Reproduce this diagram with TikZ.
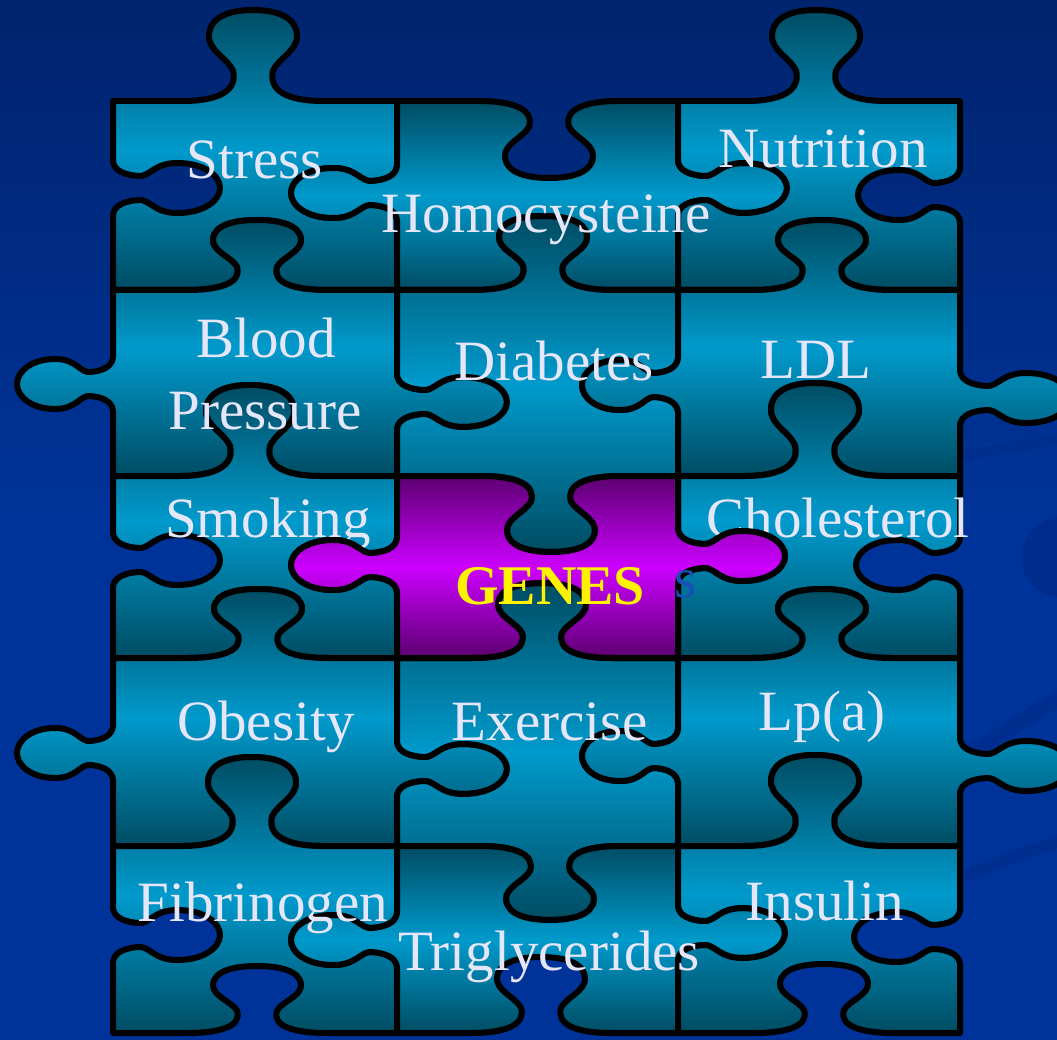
\documentclass[tikz,border=0pt]{standalone}
\usepackage{fontspec}
\setmainfont{Liberation Serif}
\usepackage{xcolor}

\definecolor{bgtop}{HTML}{00246E}
\definecolor{bgbot}{HTML}{003399}
\definecolor{bgswoosh}{HTML}{002A86}
\definecolor{tealhi}{HTML}{009ACC}
\definecolor{tealdk}{HTML}{004C63}
\definecolor{purphi}{HTML}{CC00FF}
\definecolor{purpdk}{HTML}{5C0070}
\definecolor{piecelabel}{HTML}{E6E6FA}
\definecolor{ghostblue}{HTML}{1A4FB8}

% knob on a horizontal edge: centre x, y, direction (+1 = rightwards), signed depth (+ = down)
\newcommand\hk[4]{%
  -- ({#1-70*(#3)},{#2})
  .. controls ({#1-35*(#3)},{#2}) and ({#1-15*(#3)},{#2+(#4)/9}) .. ({#1-20*(#3)},{#2+(#4)/3})
  .. controls ({#1-25*(#3)},{#2+(#4)*42/90}) and ({#1-45*(#3)},{#2+(#4)*50/90}) .. ({#1-44*(#3)},{#2+(#4)*65/90})
  .. controls ({#1-43*(#3)},{#2+(#4)*85/90}) and ({#1-20*(#3)},{#2+(#4)}) .. ({#1},{#2+(#4)})
  .. controls ({#1+20*(#3)},{#2+(#4)}) and ({#1+43*(#3)},{#2+(#4)*85/90}) .. ({#1+44*(#3)},{#2+(#4)*65/90})
  .. controls ({#1+45*(#3)},{#2+(#4)*50/90}) and ({#1+25*(#3)},{#2+(#4)*42/90}) .. ({#1+20*(#3)},{#2+(#4)/3})
  .. controls ({#1+15*(#3)},{#2+(#4)/9}) and ({#1+35*(#3)},{#2}) .. ({#1+70*(#3)},{#2})}

% knob on a vertical edge: x, centre y, direction (+1 = downwards), signed depth (+ = right)
\newcommand\vk[4]{%
  -- ({#1},{#2-27*(#3)})
  .. controls ({#1+(#4)*1/105},{#2-17*(#3)}) and ({#1+(#4)*12/105},{#2-13*(#3)}) .. ({#1+(#4)*25/105},{#2-12*(#3)})
  .. controls ({#1+(#4)*36/105},{#2-11*(#3)}) and ({#1+(#4)*40/105},{#2-25*(#3)}) .. ({#1+(#4)*63/105},{#2-25*(#3)})
  .. controls ({#1+(#4)*90/105},{#2-25*(#3)}) and ({#1+(#4)},{#2-12*(#3)}) .. ({#1+(#4)},{#2})
  .. controls ({#1+(#4)},{#2+12*(#3)}) and ({#1+(#4)*90/105},{#2+25*(#3)}) .. ({#1+(#4)*63/105},{#2+25*(#3)})
  .. controls ({#1+(#4)*40/105},{#2+25*(#3)}) and ({#1+(#4)*36/105},{#2+11*(#3)}) .. ({#1+(#4)*25/105},{#2+12*(#3)})
  .. controls ({#1+(#4)*12/105},{#2+13*(#3)}) and ({#1+(#4)*1/105},{#2+17*(#3)}) .. ({#1},{#2+27*(#3)})}

\tikzset{
  piece/.style={draw=black, line width=6pt, line join=round,
    top color=tealdk, bottom color=tealdk, middle color=tealhi},
  genespiece/.style={piece, top color=purpdk, bottom color=purpdk, middle color=purphi},
  piecetext/.style={text=piecelabel, font=\fontsize{57}{60}\selectfont, anchor=base, inner sep=0pt},
}

\begin{document}
\begin{tikzpicture}[x=1pt, y=-1pt]
  \useasboundingbox (0,0) rectangle (1057,1040);
  \clip (0,0) rectangle (1057,1040);
  \fill[top color=bgtop, bottom color=bgbot, middle color=bgbot] (0,0) rectangle (1057,1040);

  % faint swooshes of the background
  \fill[bgswoosh, opacity=0.6] (1057,515) .. controls (1012,530) and (1008,585) .. (1057,598) -- cycle;
  \draw[bgswoosh, line width=16pt, opacity=0.45] (940,770) .. controls (985,745) and (1025,720) .. (1062,695);
  \draw[bgswoosh, line width=12pt, opacity=0.45] (940,885) .. controls (985,868) and (1025,852) .. (1062,840);
  \draw[bgswoosh, line width=10pt, opacity=0.35] (940,460) .. controls (985,452) and (1025,445) .. (1062,438);

  % row 1
  \path[piece] (113,101) \hk{253}{101}{1}{-91} -- (397,101) \vk{397}{193}{1}{-106} -- (397,290) \hk{257}{290}{-1}{-70} -- (113,290) \vk{113}{188}{-1}{107} -- cycle;
  \path[piece] (397,101) \hk{549}{101}{1}{77} -- (678,101) \vk{678}{188}{1}{109} -- (678,290) \hk{543}{290}{-1}{-74} -- (397,290) \vk{397}{193}{-1}{-106} -- cycle;
  \path[piece] (678,101) \hk{816}{101}{1}{-91} -- (960,101) \vk{960}{195}{1}{-102} -- (960,290) \hk{822}{290}{-1}{-70} -- (678,290) \vk{678}{188}{-1}{109} -- cycle;
  % row 2
  \path[piece] (113,290) \hk{257}{290}{1}{-70} -- (397,290) \vk{397}{402}{1}{110} -- (397,476) \hk{250}{476}{-1}{-91} -- (113,476) \vk{113}{384}{-1}{-96} -- cycle;
  \path[piece] (397,290) \hk{543}{290}{1}{-74} -- (678,290) \vk{678}{385}{1}{-96} -- (678,476) \hk{551}{476}{-1}{76} -- (397,476) \vk{397}{402}{-1}{110} -- cycle;
  \path[piece] (678,290) \hk{822}{290}{1}{-70} -- (960,290) \vk{960}{398}{1}{110} -- (960,476) \hk{815}{476}{-1}{-93} -- (678,476) \vk{678}{385}{-1}{-96} -- cycle;
  % row 3 (without the middle piece)
  \path[piece] (113,476) \hk{250}{476}{1}{-91} -- (397,476) \vk{397}{565}{1}{-106} -- (397,658) \hk{258}{658}{-1}{-69} -- (113,658) \vk{113}{560}{-1}{107} -- cycle;
  \path[piece] (678,476) \hk{815}{476}{1}{-93} -- (960,476) \vk{960}{565}{1}{-104} -- (960,658) \hk{822}{658}{-1}{-69} -- (678,658) \vk{678}{556}{-1}{107} -- cycle;
  % row 4
  \path[piece] (113,658) \hk{258}{658}{1}{-69} -- (397,658) \vk{397}{769}{1}{110} -- (397,846) \hk{252}{846}{-1}{-89} -- (113,846) \vk{113}{753}{-1}{-96} -- cycle;
  \path[piece] (397,658) \hk{542}{658}{1}{-75} -- (678,658) \vk{678}{756}{1}{-96} -- (678,846) \hk{550}{846}{-1}{74} -- (397,846) \vk{397}{769}{-1}{110} -- cycle;
  \path[piece] (678,658) \hk{822}{658}{1}{-69} -- (960,658) \vk{960}{766}{1}{110} -- (960,846) \hk{815}{846}{-1}{-91} -- (678,846) \vk{678}{756}{-1}{-96} -- cycle;
  % row 5
  \path[piece] (113,846) \hk{252}{846}{1}{-89} -- (397,846) \vk{397}{940}{1}{-106} -- (397,1033) \hk{257}{1033}{-1}{-67} -- (113,1033) \vk{113}{935}{-1}{107} -- cycle;
  \path[piece] (397,846) \hk{550}{846}{1}{74} -- (678,846) \vk{678}{933}{1}{107} -- (678,1033) \hk{541}{1033}{-1}{-76} -- (397,1033) \vk{397}{940}{-1}{-106} -- cycle;
  \path[piece] (678,846) \hk{815}{846}{1}{-91} -- (960,846) \vk{960}{937}{1}{-106} -- (960,1033) \hk{824}{1033}{-1}{-69} -- (678,1033) \vk{678}{933}{-1}{107} -- cycle;

  \node[piecetext] (stress) at (255,179) {Stress};
  \node[piecetext] (homocysteine) at (546,233) {Homocysteine};
  \node[piecetext] (nutrition) at (823,168) {Nutrition};
  \node[piecetext] (blood) at (266,358) {Blood};
  \node[piecetext] (pressure) at (265,429) {Pressure};
  \node[piecetext] (diabetes) at (554,380) {Diabetes};
  \node[piecetext] (ldl) at (816,378) {LDL};
  \node[piecetext] (smoking) at (268,537) {Smoking};
  \node[piecetext] (cholesterol) at (838,537) {Cholesterol};
  \node[piecetext] (obesity) at (266,740) {Obesity};
  \node[piecetext] (exercise) at (550,740) {Exercise};
  \node[piecetext] (lpa) at (822,730) {Lp(a)};
  \node[piecetext] (fibrinogen) at (263,921) {Fibrinogen};
  \node[piecetext] (triglycerides) at (549,970) {Triglycerides};
  \node[piecetext] (insulin) at (825,920) {Insulin};

  % the middle piece lies on top
  \path[genespiece] (397,476) \hk{551}{476}{1}{76} -- (678,476) \vk{678}{556}{1}{107} -- (678,658) \hk{542}{658}{-1}{-75} -- (397,658) \vk{397}{565}{-1}{-106} -- cycle;
  \node[piecetext, text=ghostblue] (ghost) at (686,597) {s};
  \node[piecetext, text=yellow, font=\fontsize{56}{60}\selectfont\bfseries] (genes) at (550,604) {GENES};
\end{tikzpicture}
\end{document}
